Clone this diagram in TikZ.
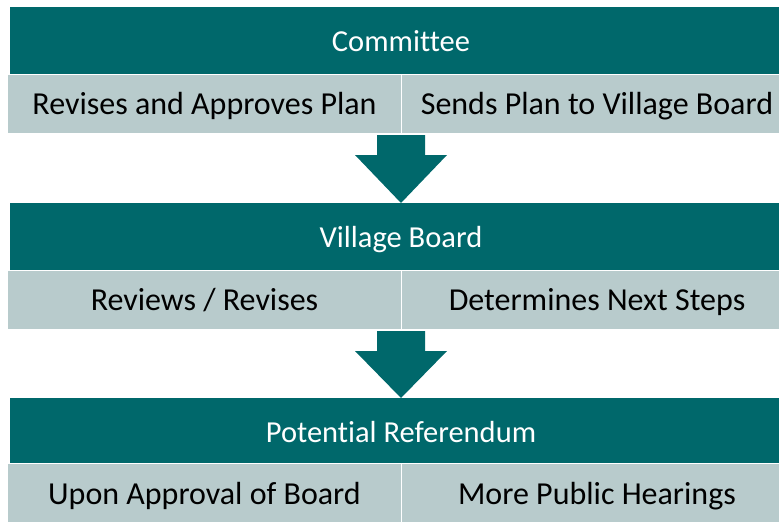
\documentclass[tikz,border=0pt]{standalone}
\usepackage{fontspec}
\setmainfont[Ligatures=NoCommon]{Carlito}
\definecolor{teal1}{RGB}{0,104,107}
\definecolor{gray1}{RGB}{184,203,204}
\begin{document}
\begin{tikzpicture}[x=1pt,y=-1pt,
  headtext/.style={text=white,anchor=base,inner sep=0pt,font=\fontsize{30.5}{36}\selectfont},
  celltext/.style={text=black,anchor=base,inner sep=0pt,font=\fontsize{32}{38}\selectfont},
  arrowshape/.style={fill=teal1,draw=none}]
\useasboundingbox (0,0) rectangle (779,522);
\clip (0,0) rectangle (779,522);
% level 1
\fill[teal1] (10,7) rectangle (792,74);
\node[headtext] (c1) at (401,51) {Committee};
\fill[gray1] (8,75) rectangle (400.5,133);
\fill[gray1] (402,75) rectangle (792,133);
\node[celltext] (r1a) at (204.5,114) {Revises and Approves Plan};
\node[celltext] (r1b) at (597,114) {Sends Plan to Village Board};
\fill[arrowshape] (377,135) -- (425,135) -- (425,155) -- (447,155) -- (401,203) -- (355,155) -- (377,155) -- cycle;
% level 2
\fill[teal1] (10,203) rectangle (792,270);
\node[headtext] (c2) at (401,247) {Village Board};
\fill[gray1] (8,271) rectangle (400.5,329);
\fill[gray1] (402,271) rectangle (792,329);
\node[celltext] (r2a) at (204.5,310) {Reviews / Revises};
\node[celltext] (r2b) at (597,310) {Determines Next Steps};
\fill[arrowshape] (377,331) -- (425,331) -- (425,351) -- (447,351) -- (401,398) -- (355,351) -- (377,351) -- cycle;
% level 3
\fill[teal1] (10,398) rectangle (792,463);
\node[headtext] (c3) at (401,442) {Potential Referendum};
\fill[gray1] (8,464) rectangle (400.5,530);
\fill[gray1] (402,464) rectangle (792,530);
\node[celltext] (r3a) at (204.5,504) {Upon Approval of Board};
\node[celltext] (r3b) at (597,504) {More Public Hearings};
\end{tikzpicture}
\end{document}
